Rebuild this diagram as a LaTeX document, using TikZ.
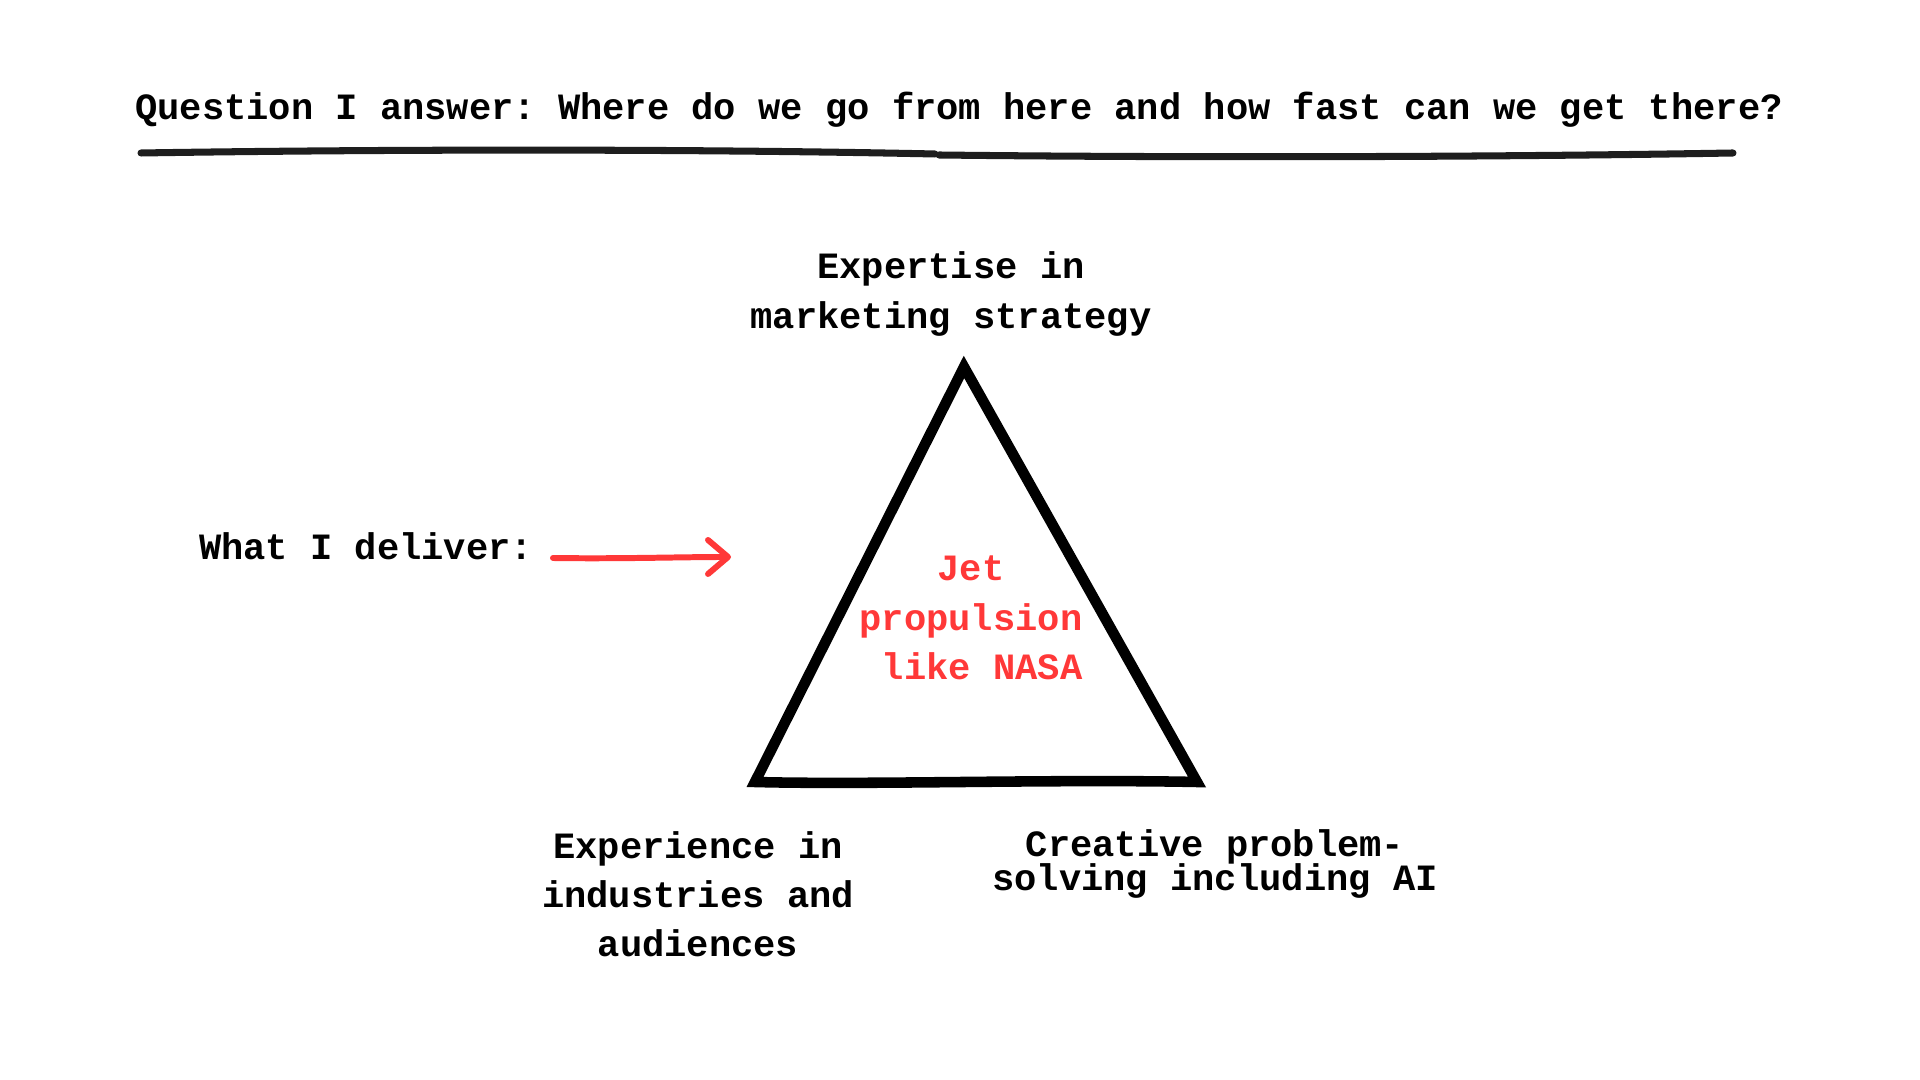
\documentclass[tikz,border=0pt]{standalone}
\usepackage{fontspec}
\setmainfont{Liberation Mono}
\usetikzlibrary{arrows.meta}
\definecolor{jetred}{HTML}{FF3838}
\definecolor{inkblack}{HTML}{1E1E1E}
\newcommand\tightlines{\lineskiplimit=-10pt\relax}
\frenchspacing

\begin{document}
\begin{tikzpicture}[
    x=0.01cm, y=-0.01cm,
    txt/.style={font=\fontsize{10.55}{14}\selectfont\bfseries, align=center, inner sep=0pt},
    tight/.style={font=\fontsize{10.55}{9.7}\selectfont\bfseries\tightlines},
    titlerule/.style={inkblack, line width=2pt, line cap=round},
    side/.style={line width=3pt, line join=miter, line cap=round},
    line/.style={-{Straight Barb[length=2mm, width=3.4mm, round]}, jetred, line width=1.7pt, line cap=round}
]
\useasboundingbox (0,0) rectangle (1920,1080);

\node[txt] (question) at (959,110) {Question I answer: Where do we go from here and how fast can we get there?};
\draw[titlerule] (141,153) .. controls (400,149) and (700,149) .. (935,154);
\draw[titlerule] (939,155) .. controls (1200,158) and (1500,157) .. (1733,153);

% triangle
\coordinate (apex) at (964,367);
\coordinate (bl) at (755,782);
\coordinate (br) at (1197,782);
\draw[side] (bl) -- (apex) -- (br) .. controls (1050,779) and (870,785) .. cycle;

\node[txt] (expertise) at (951,294) {Expertise in\\marketing strategy};
\node[txt, text=jetred] (jet) at (971,618) {Jet\\propulsion\\\hphantom{x}like NASA};
\node[txt] (experience) at (698,894) {Experience in\\industries and\\audiences};
\node[txt, tight] (creative) at (1215,864) {Creative problem-\\solving including AI};

\node[txt] (deliver) at (366,546) {What I deliver:};
\coordinate (arrowstart) at (553,558);
\coordinate (arrowtip) at (731,557);
\draw[line] (arrowstart) .. controls (620,559) and (680,557) .. (arrowtip);
\end{tikzpicture}
\end{document}
